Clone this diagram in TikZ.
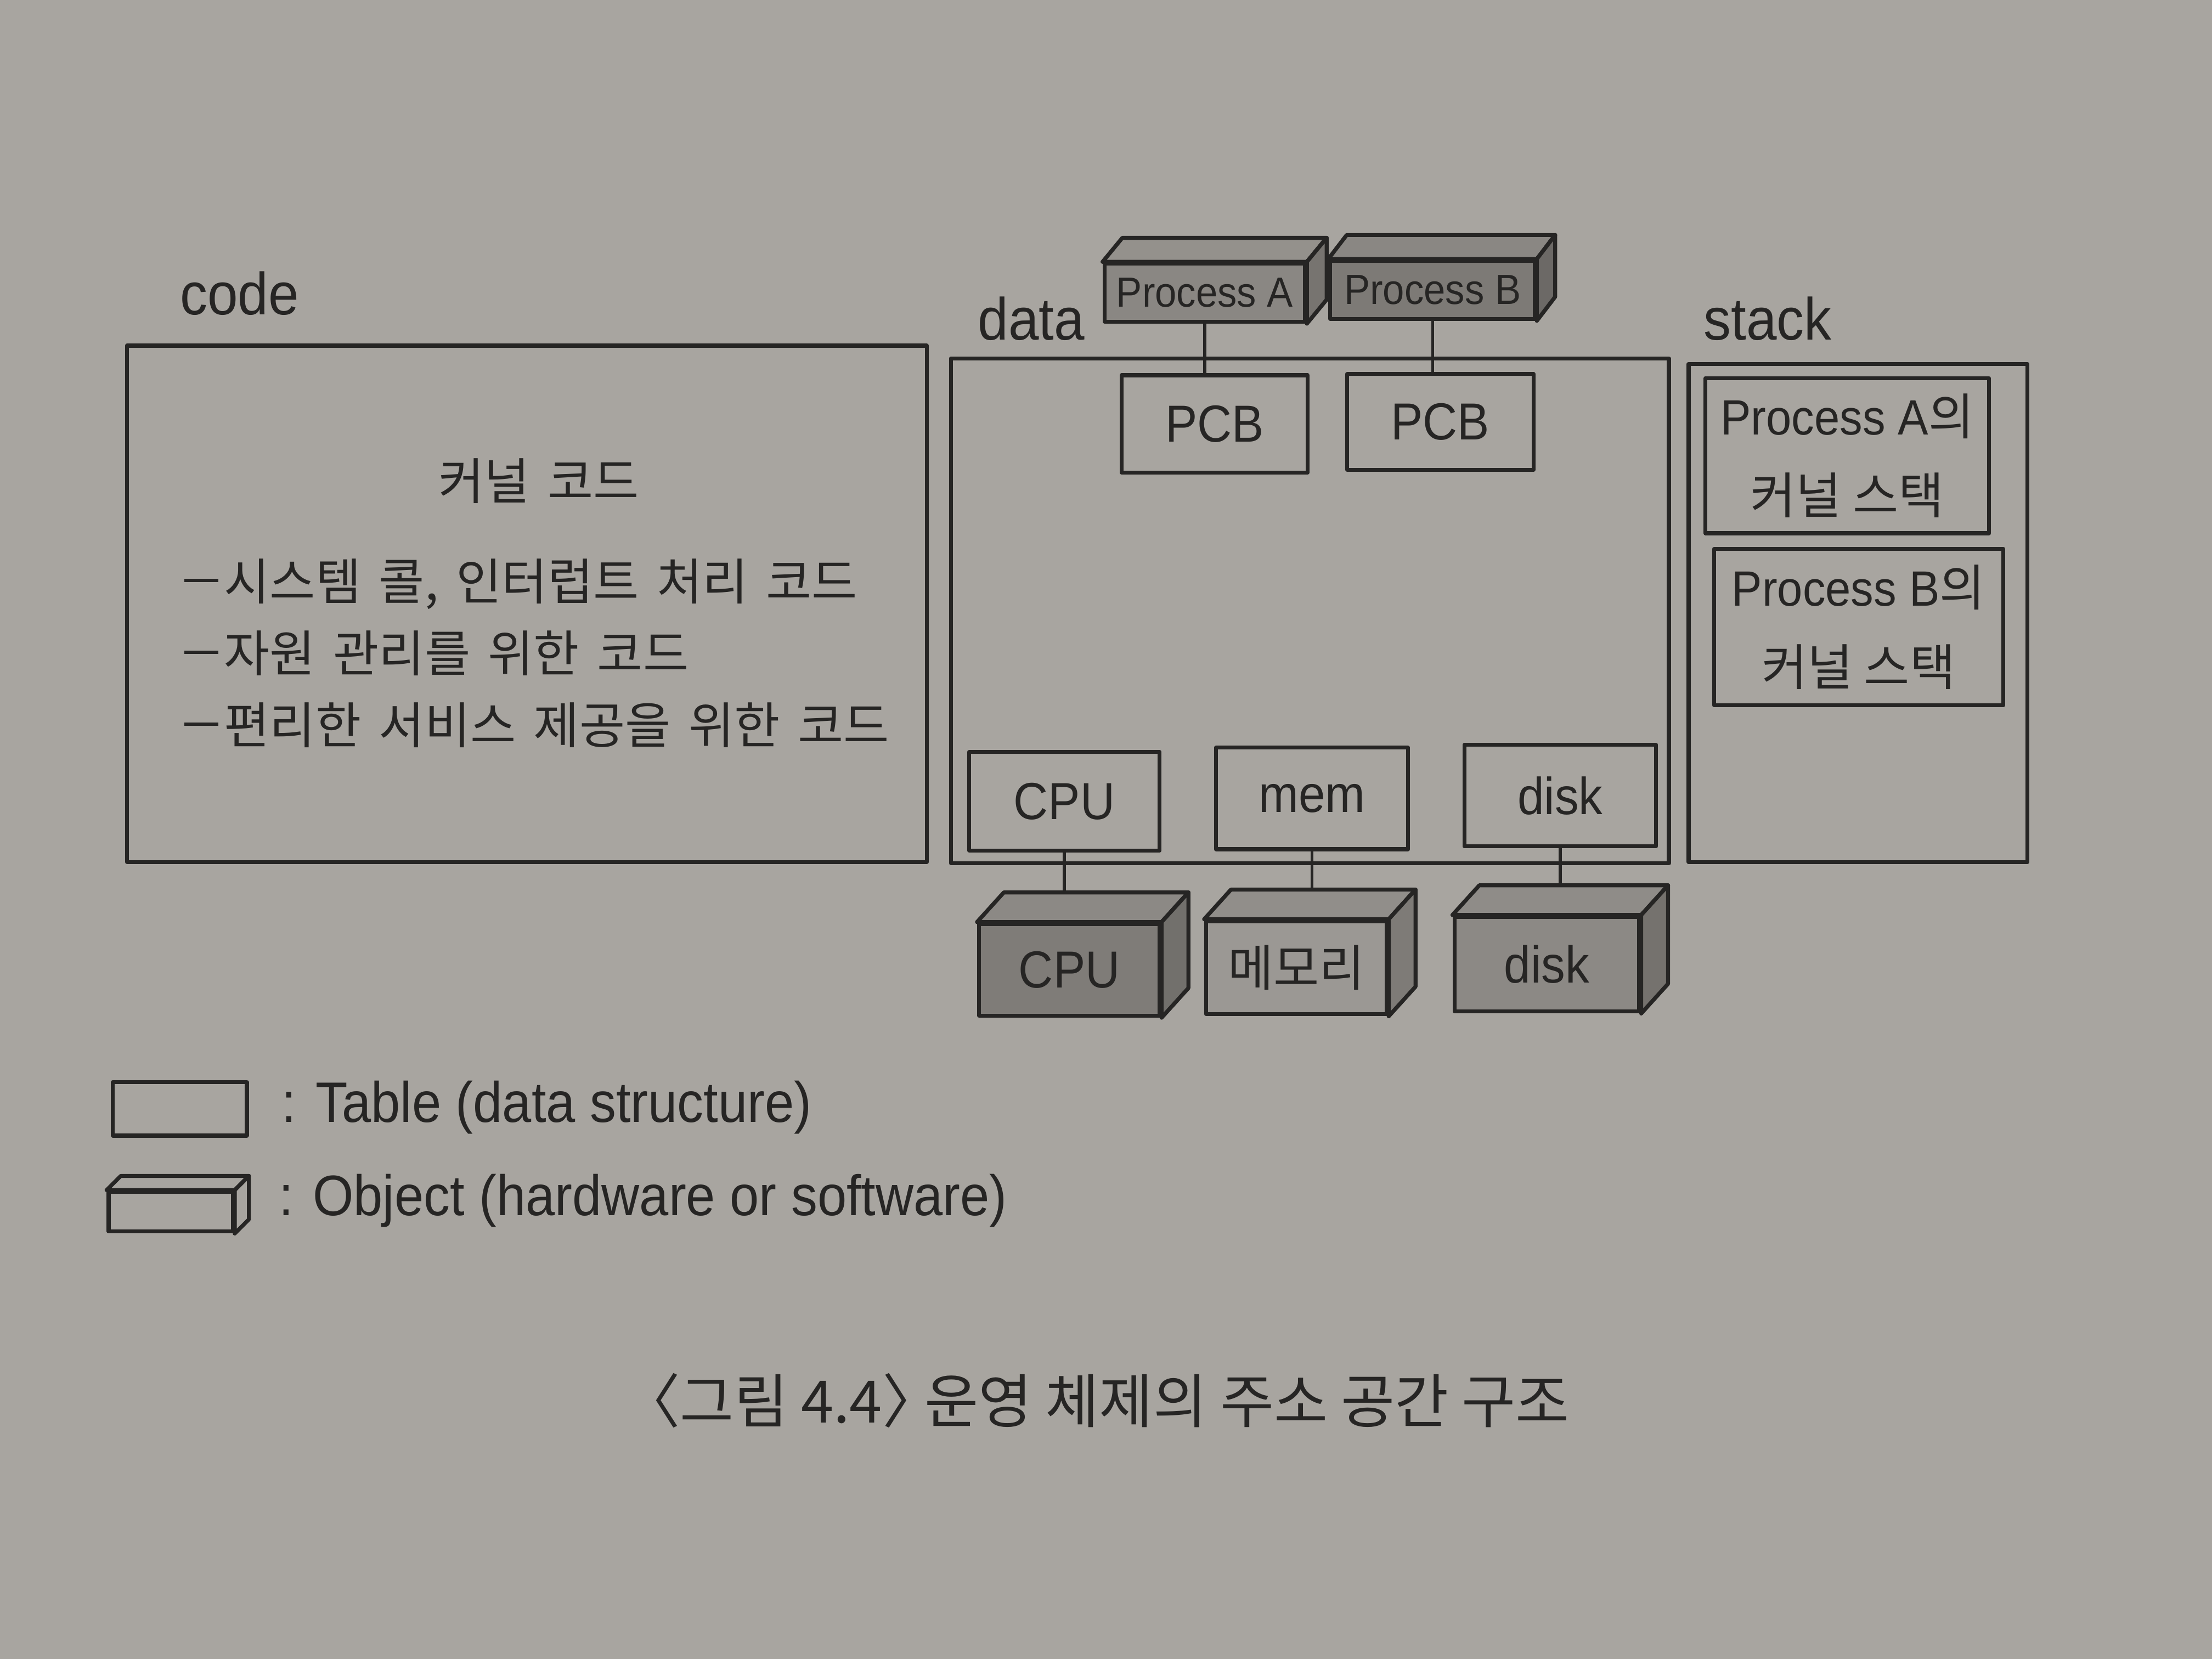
\documentclass[tikz,border=0pt]{standalone}
\usepackage{fontspec}
\setmainfont[FakeStretch=0.92]{Liberation Sans}
\newfontfamily\kr{Noto Sans CJK KR}
\newfontfamily\krwide[WordSpace=1.6, Scale=1.001]{Noto Sans CJK KR}
\newfontfamily\krcap[RawFeature=+halt]{Noto Sans CJK KR}
\usetikzlibrary{calc}

\definecolor{paper}{HTML}{A8A5A0}
\definecolor{ink}{HTML}{262524}
\definecolor{pAfront}{HTML}{8A8783}
\definecolor{pAtop}{HTML}{94918C}
\definecolor{pAside}{HTML}{777470}
\definecolor{pBfront}{HTML}{7D7A76}
\definecolor{pBtop}{HTML}{8A8783}
\definecolor{pBside}{HTML}{6C6966}
\definecolor{cpuFront}{HTML}{7F7C78}
\definecolor{cpuTop}{HTML}{8C8985}
\definecolor{cpuSide}{HTML}{72706C}
\definecolor{memFront}{HTML}{9B9894}
\definecolor{memTop}{HTML}{918E8A}
\definecolor{memSide}{HTML}{7E7B77}
\definecolor{dskFront}{HTML}{8C8985}
\definecolor{dskTop}{HTML}{8F8C88}
\definecolor{dskSide}{HTML}{75726E}

\tikzset{
  boxline/.style={draw=ink, line width=0.8pt, line join=round},
  sz/.style 2 args={minimum width=#1*0.01cm, minimum height=#2*0.01cm},
  tbl/.style={boxline, inner sep=0pt, text=ink, font=\fontsize{10.5}{12}\selectfont},
  obj/.style={boxline, inner sep=0pt, text=ink},
  conn/.style={draw=ink, line width=0.6pt},
  lbl/.style={text=ink, inner sep=0pt, font=\fontsize{12}{14}\selectfont},
  krtxt/.style={text=ink, inner sep=0pt, font=\krwide\fontsize{10}{12}\selectfont},
}

% bullet dash used in the kernel-code list
\newcommand\krdash{\rule[0.36em]{0.68em}{0.065em}\hspace{0.12em}}

% top and side faces of a block, drawn behind-right of its front face
\newcommand\blockfaces[5]{%
  \filldraw[fill=#4, boxline] (#1.north west) -- ++(#2,-#3)
    -- ($(#1.north east)+(#2,-#3)$) -- (#1.north east) -- cycle;
  \filldraw[fill=#5, boxline] (#1.north east) -- ++(#2,-#3)
    -- ($(#1.south east)+(#2,-#3)$) -- (#1.south east) -- cycle;
}

\begin{document}
\begin{tikzpicture}[x=0.01cm, y=-0.01cm]
  \fill[paper] (0,0) rectangle (1568,1176);
  \useasboundingbox (0,0) rectangle (1568,1176);

  % ---- section labels ----
  \node[lbl, anchor=west] (codeLbl) at (127,208) {code};
  \node[lbl] (dataLbl) at (731,226) {data};
  \node[lbl] (stackLbl) at (1253,226) {stack};

  % ---- code segment ----
  \node[tbl, sz={567}{366}] (code) at (373.5,428) {};
  \node[krtxt] (kcode) at (382,341) {커널 코드};
  \node[krtxt, anchor=west] (b1) at (130,414) {\krdash 시스템 콜, 인터럽트 처리 코드};
  \node[krtxt, anchor=west] (b2) at (130,463) {\krdash 자원 관리를 위한 코드};
  \node[krtxt, anchor=west] (b3) at (130,514) {\krdash 편리한 서비스 제공을 위한 코드};

  % ---- data segment ----
  \node[tbl, sz={509}{358}] (data) at (928.5,433) {};
  \node[tbl, sz={132}{69}] (pcbA) at (861,300.5) {PCB};
  \node[tbl, sz={132}{68}] (pcbB) at (1021,299) {PCB};
  \node[tbl, sz={135}{70}] (cpuT) at (754.5,568) {CPU};
  \node[tbl, sz={136}{72}] (memT) at (930,566) {mem};
  \node[tbl, sz={136}{72}] (dskT) at (1106,564) {disk};

  % ---- process objects ----
  \node[obj, fill=pAfront, sz={142}{41}, font=\fontsize{8.5}{10}\selectfont] (procA) at (854,207.5) {Process A};
  \blockfaces{procA}{14}{17}{pAtop}{pAside}
  \node[obj, fill=pBfront, sz={145}{41}, font=\fontsize{8.5}{10}\selectfont] (procB) at (1015.5,205.5) {Process B};
  \blockfaces{procB}{13}{17}{pBtop}{pBside}

  \draw[conn] (procA.south) -- (procA.south |- pcbA.north);
  \draw[conn] (procB.south) -- (procB.south |- pcbB.north);

  % ---- hardware objects ----
  \node[obj, fill=cpuFront, sz={128}{65}, font=\fontsize{10.5}{12}\selectfont] (cpuH) at (758,687.5) {CPU};
  \blockfaces{cpuH}{19}{21}{cpuTop}{cpuSide}
  \node[obj, fill=memFront, sz={128}{66}, font=\kr\fontsize{10}{12}\selectfont] (memH) at (919,686) {메모리};
  \blockfaces{memH}{19}{21}{memTop}{memSide}
  \node[obj, fill=dskFront, sz={131}{67}, font=\fontsize{10.5}{12}\selectfont] (dskH) at (1096.5,683.5) {disk};
  \blockfaces{dskH}{19}{21}{dskTop}{dskSide}

  \draw[conn] (cpuT.south) -- ($(cpuT.south |- cpuH.north)+(0,-21)$);
  \draw[conn] (memT.south) -- ($(memT.south |- memH.north)+(0,-21)$);
  \draw[conn] (dskT.south) -- ($(dskT.south |- dskH.north)+(0,-21)$);

  % ---- stack segment ----
  \node[tbl, sz={240}{353}] (stack) at (1317,434.5) {};
  \node[tbl, sz={201}{110}, align=center, font=\fontsize{10}{16}\selectfont] (stA) at (1309.5,323)
    {Process A{\kr 의}\\{\kr 커널 스택}};
  \node[tbl, sz={205}{111}, align=center, font=\fontsize{10}{16}\selectfont] (stB) at (1317.5,444.5)
    {Process B{\kr 의}\\{\kr 커널 스택}};

  % ---- legend ----
  \node[tbl, sz={95}{38}] (legT) at (127.5,786) {};
  \node[text=ink, inner sep=0pt, anchor=west, font=\fontsize{11.5}{13}\selectfont] (legTtxt) at (199,785) {: Table (data structure)};
  \node[obj, sz={88}{28}] (legO) at (121,859) {};
  \blockfaces{legO}{10}{10}{paper}{paper}
  \node[text=ink, inner sep=0pt, anchor=west, font=\fontsize{11.5}{13}\selectfont] (legOtxt) at (197,851) {: Object (hardware or software)};

  % ---- caption ----
  \node[text=ink, inner sep=0pt, font=\krcap\fontsize{11.8}{14}\selectfont] (cap) at (787,993) {〈그림 4.4〉 운영 체제의 주소 공간 구조};
\end{tikzpicture}
\end{document}
